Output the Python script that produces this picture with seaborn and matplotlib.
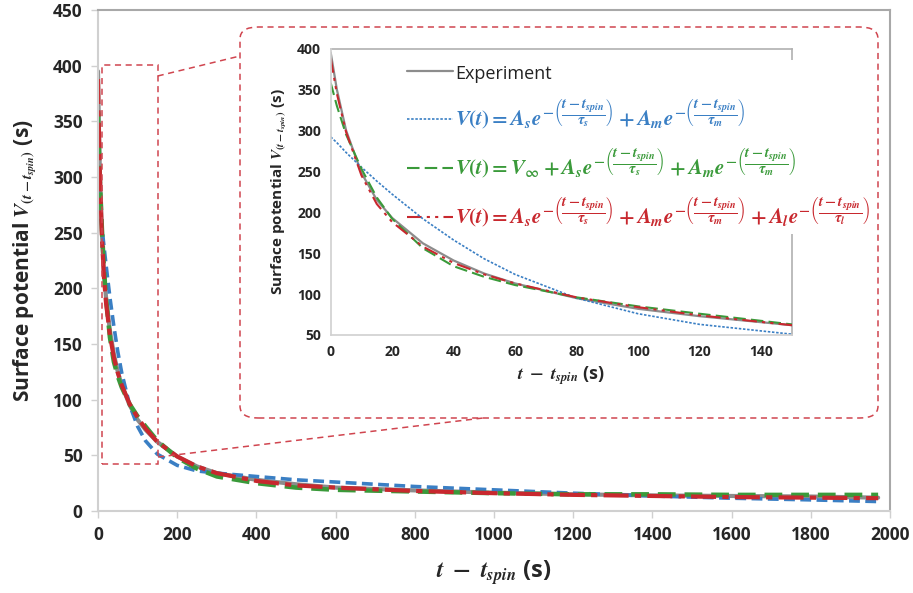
import numpy as np
import pandas as pd
import matplotlib
matplotlib.use("Agg")
import matplotlib.pyplot as plt
import seaborn as sns
from matplotlib.patches import FancyBboxPatch, Rectangle
from matplotlib.lines import Line2D

# ---------------- data ----------------
t = [0, 2, 5, 10, 15, 20, 30, 40, 50, 60, 80, 100, 120, 150, 200, 250, 300,
     400, 500, 600, 800, 1000, 1200, 1400, 1600, 1800, 1970]
experiment = [395, 350, 300, 248, 215, 193, 162, 141, 125, 113, 95, 82, 73, 62,
              49, 40, 34, 28, 24, 21, 18.5, 16.5, 15, 14, 13.5, 13, 12]
fit_biexp = [292, 285, 273, 255, 238, 222, 192, 166, 143, 124, 95, 76, 63, 51,
             41, 36, 34, 31, 28, 26, 22, 19, 16, 13.5, 11.5, 10, 8.5]
fit_biexp_inf = [358, 330, 295, 253, 218, 192, 156, 134, 121, 111, 96, 85, 76, 63,
                 48, 38, 31, 25, 21, 19, 17.5, 16, 15, 15, 14.5, 14.5, 14.5]
fit_triexp = [388, 345, 298, 245, 210, 188, 158, 138, 124, 113, 96, 84, 74, 62,
              49, 40, 34, 27, 23, 21, 18, 16, 14.5, 13.5, 12.5, 12, 11.5]

labels = [
    "Experiment",
    r"$V(t)=A_s e^{-\left(\dfrac{t-t_{spin}}{\tau_s}\right)}+A_m e^{-\left(\dfrac{t-t_{spin}}{\tau_m}\right)}$",
    r"$V(t)=V_\infty+A_s e^{-\left(\dfrac{t-t_{spin}}{\tau_s}\right)}+A_m e^{-\left(\dfrac{t-t_{spin}}{\tau_m}\right)}$",
    r"$V(t)=A_s e^{-\left(\dfrac{t-t_{spin}}{\tau_s}\right)}+A_m e^{-\left(\dfrac{t-t_{spin}}{\tau_m}\right)}+A_l e^{-\left(\dfrac{t-t_{spin}}{\tau_l}\right)}$",
]
series = [experiment, fit_biexp, fit_biexp_inf, fit_triexp]
main_xticks = [0, 200, 400, 600, 800, 1000, 1200, 1400, 1600, 1800, 2000]
main_yticks = [0, 50, 100, 150, 200, 250, 300, 350, 400, 450]
inset_xticks = [0, 20, 40, 60, 80, 100, 120, 140]
inset_yticks = [50, 100, 150, 200, 250, 300, 350, 400]

# ---------------- style ----------------
sns.set_theme(style="white")
plt.rcParams["font.family"] = ["Open Sans", "DejaVu Sans"]
plt.rcParams["mathtext.fontset"] = "custom"
plt.rcParams["mathtext.rm"] = "STIXGeneral:bold"
plt.rcParams["mathtext.it"] = "STIXGeneral:italic:bold"
plt.rcParams["mathtext.bf"] = "STIXGeneral:bold"

colors = ["#8c8c8c", "#3a7fc4", "#3a9a3a", "#c8282e"]
main_styles = [dict(ls="-", lw=3.0), dict(ls=(0, (3, 1.5)), lw=2.6),
               dict(ls=(0, (4, 2)), lw=3.2), dict(ls=(0, (6, 1.5, 1.5, 1.5)), lw=3.0)]
inset_styles = [dict(ls="-", lw=1.6), dict(ls=(0, (1.5, 1)), lw=1.2),
                dict(ls=(0, (6, 2.5)), lw=1.5), dict(ls=(0, (7, 2.5, 1.5, 2.5, 1.5, 2.5)), lw=1.5)]

W, H = 913, 593
fig = plt.figure(figsize=(W / 100, H / 100), dpi=100)

def fx(px):
    return px / W

def fy(py):
    return 1 - py / H

# ---------------- main axes ----------------
ax = fig.add_axes([fx(98), fy(511), fx(890) - fx(98), fy(10) - fy(511)])
for vals, c, st in zip(series, colors, main_styles):
    d = pd.DataFrame({"t": t, "v": vals})
    sns.lineplot(data=d, x="t", y="v", ax=ax, color=c, linestyle=st["ls"],
                 lw=st["lw"], legend=False)
ax.set_xlim(0, 2000)
ax.set_ylim(0, 450)
ax.set_xticks(main_xticks)
ax.set_yticks(main_yticks)
ax.tick_params(axis="both", which="major", labelsize=12.5, length=5, width=1,
               color="#d0d0d0", direction="out", bottom=True, left=True, pad=6)
for lab in ax.get_xticklabels() + ax.get_yticklabels():
    lab.set_fontweight("bold")
for s in ["left", "bottom"]:
    ax.spines[s].set_color("#d0d0d0")
    ax.spines[s].set_linewidth(1.5)
for s in ["top", "right"]:
    ax.spines[s].set_color("#a8a8a8")
    ax.spines[s].set_linewidth(1.5)
ax.set_xlabel(r"$t\ -\ t_{spin}$ (s)", fontsize=17, fontweight="bold", labelpad=10)
ax.set_ylabel(r"Surface potential $V_{(t-t_{spin})}$ (s)", fontsize=15,
              fontweight="bold", labelpad=10)

# zoom rectangle on main axes
red_dash = "#d0454f"
ax.add_patch(Rectangle((11, 42), 140, 359, fill=False, ec=red_dash, lw=1.1,
                       ls=(0, (4, 3)), zorder=6))

# ---------------- inset ----------------
axi = fig.add_axes([fx(330.7), fy(335), fx(791.7) - fx(330.7), fy(48.5) - fy(335)])
axi.set_facecolor("white")
handles = []
for vals, c, st in zip(series, colors, inset_styles):
    d = pd.DataFrame({"t": t, "v": vals})
    sns.lineplot(data=d, x="t", y="v", ax=axi, color=c, linestyle=st["ls"],
                 lw=st["lw"], legend=False, zorder=2)
    handles.append(Line2D([], [], color=c, ls=st["ls"], lw=st["lw"]))
axi.set_xlim(0, 150)
axi.set_ylim(50, 400)
axi.set_xticks(inset_xticks)
axi.set_yticks(inset_yticks)
axi.tick_params(axis="both", labelsize=10, length=3, color="#d0d0d0", pad=4)
for lab in axi.get_xticklabels() + axi.get_yticklabels():
    lab.set_fontweight("bold")
for s in ["left", "bottom"]:
    axi.spines[s].set_color("#d0d0d0")
    axi.spines[s].set_linewidth(1.2)
for s in ["top", "right"]:
    axi.spines[s].set_color("#b0b0b0")
    axi.spines[s].set_linewidth(1.2)
    axi.spines[s].set_zorder(0.5)
axi.set_xlabel(r"$t\ -\ t_{spin}$ (s)", fontsize=13, fontweight="bold", labelpad=4)
axi.set_ylabel(r"Surface potential $V_{(t-t_{spin})}$ (s)", fontsize=11,
               fontweight="bold", labelpad=6)

leg = axi.legend(handles, labels, loc="upper left",
                 bbox_to_anchor=(fx(403), fy(60)), bbox_transform=fig.transFigure,
                 frameon=True, fancybox=False, framealpha=1, edgecolor="none",
                 facecolor="white", fontsize=15, handlelength=2.2,
                 handletextpad=0.1, labelspacing=0.72, borderpad=0.2,
                 borderaxespad=0)
leg.set_zorder(1)
for i, (txt, c) in enumerate(zip(leg.get_texts(), colors)):
    if i == 0:
        txt.set_color("#222222")
        txt.set_fontsize(13)
    else:
        txt.set_color(c)

# ---------------- rounded frame and connectors ----------------
frame = FancyBboxPatch((fx(240), fy(418)), fx(878) - fx(240), fy(27) - fy(418),
                       boxstyle="round,pad=0,rounding_size=0.02",
                       transform=fig.transFigure, fill=False, ec=red_dash,
                       lw=1.1, ls=(0, (4, 3)), zorder=0)
fig.patches.append(frame)
fig.add_artist(Line2D([fx(157.7), fx(240)], [fy(76), fy(56)],
                      transform=fig.transFigure, color=red_dash, lw=1.1,
                      ls=(0, (4, 3))))
fig.add_artist(Line2D([fx(158), fx(483)], [fy(457), fy(418)],
                      transform=fig.transFigure, color=red_dash, lw=1.1,
                      ls=(0, (4, 3))))

fig.savefig("out.png", dpi=100)
